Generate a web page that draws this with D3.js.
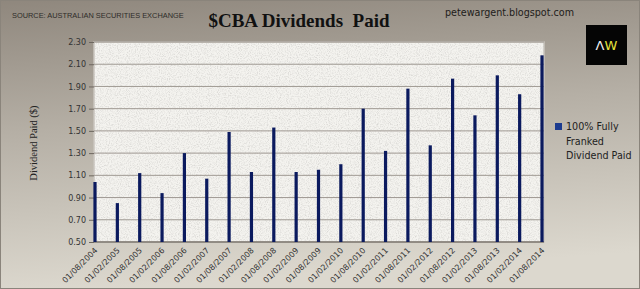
<!DOCTYPE html>
<html>
<head>
<meta charset="utf-8">
<script src="https://cdn.jsdelivr.net/npm/d3@7"></script>
<style>
  body { margin: 0; padding: 0; overflow: hidden; }
  svg { display: block; }
</style>
</head>
<body>
<div id="chart"></div>
<script>
// payment dates and dividend per share ($)
const payDates = ["01/08/2004","01/02/2005","01/08/2005","01/02/2006","01/08/2006","01/02/2007","01/08/2007",
    "01/02/2008","01/08/2008","01/02/2009","01/08/2009","01/02/2010","01/08/2010","01/02/2011",
    "01/08/2011","01/02/2012","01/08/2012","01/02/2013","01/08/2013","01/02/2014","01/08/2014"];
const dividends = [1.04,0.85,1.12,0.94,1.30,1.07,1.49,1.13,1.53,1.13,1.15,1.20,1.70,1.32,1.88,1.37,1.97,1.64,2.00,1.83,2.18];
const yTicks = [0.50,0.70,0.90,1.10,1.30,1.50,1.70,1.90,2.10,2.30];
const legendLines = ["100% Fully","Franked","Dividend Paid"];

const W = 640, H = 289;
const margin = {top: 42, right: 96, bottom: 47, left: 94};
const width = W - margin.left - margin.right;
const height = H - margin.top - margin.bottom;

const svg = d3.select("#chart").append("svg")
    .attr("width", W)
    .attr("height", H);

const defs = svg.append("defs");
const bg = defs.append("linearGradient")
    .attr("id","bgGrad")
    .attr("x1",0).attr("y1",0).attr("x2",0.15).attr("y2",1);
bg.append("stop").attr("offset","0%").attr("stop-color","#8f877d");
bg.append("stop").attr("offset","45%").attr("stop-color","#b5afa5");
bg.append("stop").attr("offset","100%").attr("stop-color","#dcd8ce");

// speckled texture for the plot area
const noise = defs.append("filter").attr("id","speckle").attr("x",0).attr("y",0).attr("width","100%").attr("height","100%");
noise.append("feTurbulence").attr("type","fractalNoise").attr("baseFrequency",0.9).attr("numOctaves",2).attr("result","n");
noise.append("feColorMatrix").attr("in","n").attr("type","matrix")
    .attr("values","0 0 0 0 0.55  0 0 0 0 0.54  0 0 0 0 0.52  0 0 0 -2.2 1.25")
    .attr("result","dots");
noise.append("feComposite").attr("in","dots").attr("in2","SourceGraphic").attr("operator","in");

svg.append("rect")
    .attr("width",W).attr("height",H)
    .attr("fill","url(#bgGrad)");
svg.append("rect")
    .attr("x",0.5).attr("y",0.5).attr("width",W-1).attr("height",H-1)
    .attr("fill","none").attr("stroke","#8a847b");

const g = svg.append("g")
    .attr("transform","translate(" + margin.left + "," + margin.top + ")");

const xScale = d3.scalePoint().domain(payDates).range([1, width - 2]);
const yScale = d3.scaleLinear().domain([0.5, 2.3]).range([height, 0]);

// plot background
g.append("rect")
    .attr("x",0).attr("y",0).attr("width",width).attr("height",height)
    .attr("fill","#f4f3ef")
    .attr("stroke","#c9c5be").attr("stroke-width",1.5);
g.append("rect")
    .attr("x",0).attr("y",0).attr("width",width).attr("height",height)
    .attr("fill","#f4f3ef")
    .attr("filter","url(#speckle)")
    .attr("opacity",0.6);

// grid lines
g.selectAll(".grid")
    .data(yTicks)
    .join("line")
    .attr("class","grid")
    .attr("x1",0).attr("x2",width)
    .attr("y1",d=>yScale(d)).attr("y2",d=>yScale(d))
    .attr("stroke","#9f9992").attr("stroke-width",1);

// y axis
const yAxis = g.append("g")
    .call(d3.axisLeft(yScale).tickValues(yTicks).tickFormat(d3.format(".2f")).tickSize(5).tickPadding(3));
yAxis.select(".domain").remove();
yAxis.selectAll(".tick line").attr("stroke","#6d675f");
yAxis.selectAll("text")
    .attr("font-family","Tahoma, 'DejaVu Sans', sans-serif")
    .attr("font-size",8)
    .attr("fill","#333");

// x axis baseline
g.append("line")
    .attr("x1",0).attr("x2",width)
    .attr("y1",height).attr("y2",height)
    .attr("stroke","#6d675f");

// bars
g.selectAll(".bar")
    .data(dividends)
    .join("rect")
    .attr("class","bar")
    .attr("x",(d,i)=>xScale(payDates[i]) - 1.6)
    .attr("width",3.2)
    .attr("y",d=>yScale(d))
    .attr("height",d=>height - yScale(d))
    .attr("fill","#0b1a5e");

// x labels
g.selectAll(".xLabel")
    .data(payDates)
    .join("text")
    .attr("class","xLabel")
    .attr("transform",d=>"translate(" + (xScale(d) + 3) + "," + (height + 9) + ") rotate(-45)")
    .attr("text-anchor","end")
    .attr("font-family","Tahoma, 'DejaVu Sans', sans-serif")
    .attr("font-size",8)
    .attr("fill","#333")
    .text(d=>d);

// y axis title
svg.append("text")
    .attr("transform","translate(37,143) rotate(-90)")
    .attr("text-anchor","middle")
    .attr("font-family","'Liberation Serif', 'Times New Roman', serif")
    .attr("font-size",10.5)
    .attr("fill","#222")
    .text("Dividend Paid ($)");

// title and notes
svg.append("text")
    .attr("x",299).attr("y",27)
    .attr("text-anchor","middle")
    .attr("font-family","'Liberation Serif', 'Times New Roman', serif")
    .attr("font-weight","bold")
    .attr("font-size",19)
    .attr("fill","#111")
    .attr("xml:space","preserve")
    .text("$CBA Dividends  Paid");

svg.append("text")
    .attr("x",12).attr("y",18)
    .attr("font-family","'Liberation Sans', Arial, sans-serif")
    .attr("font-size",7.4)
    .attr("fill","#2e2c29")
    .text("SOURCE: AUSTRALIAN SECURITIES EXCHANGE");

svg.append("text")
    .attr("x",445).attr("y",16)
    .attr("font-family","'DejaVu Sans', Verdana, sans-serif")
    .attr("font-size",9.6)
    .attr("fill","#1e1c1a")
    .text("petewargent.blogspot.com");

// logo
svg.append("rect")
    .attr("x",586).attr("y",25).attr("width",41).attr("height",40)
    .attr("fill","#050505");
const logo = svg.append("text")
    .attr("x",606.5).attr("y",50)
    .attr("text-anchor","middle")
    .attr("font-family","'DejaVu Sans', sans-serif")
    .attr("font-size",13);
logo.append("tspan").attr("fill","#f2f2f2").text("\u039B");
logo.append("tspan").attr("fill","#e6e23a").text("W");

// legend
const legend = svg.append("g").attr("transform","translate(555,123)");
legend.append("rect")
    .attr("width",7).attr("height",7)
    .attr("fill","#1c3b8f");
legend.selectAll("text")
    .data(legendLines)
    .join("text")
    .attr("x",11)
    .attr("y",(d,i)=>7 + i*14.5)
    .attr("font-family","'DejaVu Sans', Verdana, sans-serif")
    .attr("font-size",9.6)
    .attr("fill","#222")
    .text(d=>d);
</script>
</body>
</html>
